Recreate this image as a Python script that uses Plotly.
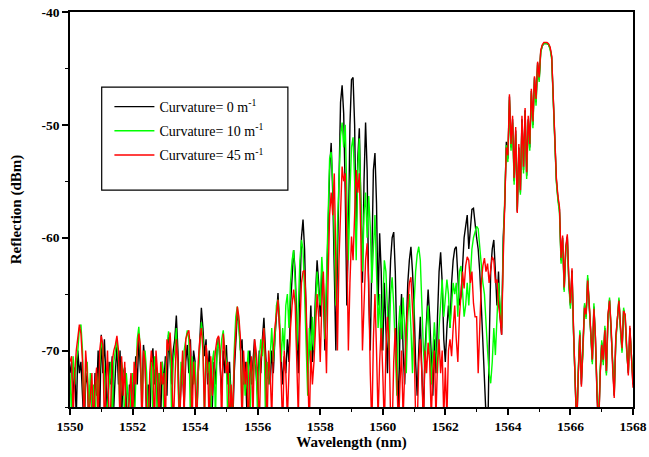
import plotly.graph_objects as go

# ---------------- data ----------------
wl_start = 1550.0   # nm
wl_step = 0.05      # nm, sampling grid of the spectra

black_dbm = [
    -72, -71, -74, -71.5, -76, -70, -72, -71, -74, -77, -73, -72, -76, -73, -75, -77, -72, -74, -70, -76,
    -68.6, -72, -69, -74, -76, -71, -73, -70.5, -75, -72, -69.5, -73, -70, -76, -72, -71.5, -74, -77, -73, -75,
    -72, -76, -70.5, -73, -69, -72, -74, -69.5, -71, -76, -73, -77, -71, -69.8, -73, -70.5, -75, -72, -76, -71,
    -73, -70.5, -74, -68.6, -71, -73, -70, -69, -66.9, -70, -76, -73, -72, -75, -71, -69.5, -72, -69, -74, -70,
    -71, -76, -72, -69, -66.2, -68, -70.5, -69, -73, -70, -72, -75, -71, -73, -70, -68.8, -71, -74, -70, -72,
    -69.5, -73, -71, -75, -77, -72, -69, -66.7, -67.5, -70, -69, -73, -71, -75, -72, -70, -73, -71, -69, -72,
    -74, -70, -72, -69, -67.1, -70, -72.5, -71, -73, -70, -72, -69, -67, -64.9, -68, -71, -73, -70.5, -72, -69,
    -71, -66, -63, -61.1, -63, -68, -72, -65, -60, -58.4, -61, -67, -72, -70, -66, -71, -69, -65, -62, -64,
    -67, -63, -65, -70, -64, -58, -54, -51.6, -56, -63, -70, -62, -53, -48, -46.5, -49, -56, -66, -60, -50,
    -46, -45.8, -50, -60, -53, -50.3, -57, -64, -55, -49.8, -54, -65, -70, -60, -54, -52.5, -57, -66, -59.6, -63,
    -70, -64, -68, -72, -66, -62, -60, -59.5, -63, -70, -76, -68, -65, -70, -73, -68, -64, -62, -60.8, -63,
    -66, -71, -74, -70, -67, -72, -76, -70, -67, -64.6, -67, -71, -74, -69, -72, -67, -63, -61.3, -64, -69,
    -71, -68, -66, -68, -64, -62, -61, -60.8, -63, -66, -65.2, -63, -60, -59, -58, -61, -59, -57.5, -57.4, -59,
    -60, -61, -63, -66, -70, -73, -77, -79, -70, -63, -61, -60.2, -63, -66, -63, -67, -68.6, -60, -57, -51.5,
    -53, -47.5, -52, -49.5, -55, -50.5, -57.7, -52, -56, -49.5, -54, -48.7, -54.5, -49.5, -52, -47, -50, -45.8, -48, -44.5,
    -46, -43.5, -43, -42.8, -42.8, -42.8, -42.9, -43.2, -44, -47.8, -52, -54.9, -56.5, -57.5, -62, -60, -64.6, -61, -59.9, -64,
    -66, -62.9, -68.4, -72, -77, -72, -68.4, -73, -70, -66, -67, -63.6, -66, -68.4, -71, -66.1, -69, -74, -77, -72,
    -69.3, -71, -68, -72, -67, -65.5, -68, -71.5, -74, -69, -67, -65.5, -68, -70, -66.4, -67, -70, -72, -68, -70.5,
    -73,
]

green_dbm = [
    -72, -76, -70.5, -73, -71, -70, -68, -67.7, -70, -76, -72, -71, -76, -72, -75, -73, -77, -72, -74, -71,
    -69, -70, -72, -76, -75, -73, -71, -77, -71, -70, -69, -71, -76, -71, -72, -77, -72, -74, -77, -73,
    -72, -77, -72, -69, -67.9, -70, -76, -71, -70, -72, -77, -73, -71, -76, -70.5, -72, -77, -72, -73, -71,
    -76, -72, -70, -68.3, -69, -76, -71, -70, -68, -72, -77, -71, -73, -70, -69, -68.2, -69, -76, -70.5, -73,
    -71, -77, -72, -70, -67.5, -69, -76, -70, -72, -71, -77, -71, -70, -76, -70, -69, -71, -69, -68.2, -70,
    -71, -77, -72, -75, -76, -70, -67, -66.1, -68, -70, -76, -71, -74, -72, -70, -77, -71, -73, -70, -71.5,
    -76, -71, -69, -70.5, -68, -76, -71, -73, -70, -68, -71, -69, -66, -65.5, -67, -71, -68, -70, -66, -65,
    -68, -64, -62, -61.1, -64, -70, -66, -62, -60.2, -61, -65, -70, -74, -68, -71, -67, -70, -66, -63, -65,
    -66, -61.7, -64, -69, -63, -57, -53, -52.4, -55, -60, -66, -59, -54, -51, -49.8, -52, -50, -56, -62, -56,
    -52, -51.1, -55, -62, -54, -51.2, -56, -63, -58, -56, -60, -56.3, -59, -64, -61, -58, -63, -68, -65, -70,
    -66, -62, -63, -67, -70, -65, -63.5, -66, -70, -74, -68, -66, -69, -65.3, -68, -72, -67, -65, -68, -72,
    -66, -63, -61.5, -60.8, -62, -66, -70, -72, -68, -66, -69, -73, -70, -67.5, -70, -72, -68, -66, -63.7, -67,
    -65, -63.7, -65, -68, -66, -64, -65, -64, -67, -63, -62.5, -65, -67, -66, -64, -66, -63, -61, -60, -59.5,
    -59, -59.2, -61, -63, -64, -65, -68, -70, -72, -72.9, -71, -68, -70.4, -67, -64, -66, -68, -61, -57, -51.8,
    -53.3, -47.8, -52.3, -49.8, -55.3, -50.8, -57.5, -52.3, -56.2, -49.8, -54.3, -48.9, -54.8, -49.8, -52.3, -47.2, -50.3, -46, -48.3, -44.7,
    -46.2, -43.6, -43, -42.8, -42.8, -42.8, -42.9, -43.3, -44.2, -48, -52.2, -55.1, -56.7, -57.8, -62.3, -60.2, -64.8, -61.2, -60.1, -64.3,
    -66.3, -63.1, -68.6, -72.3, -76.5, -71.8, -68.2, -72.5, -70.3, -65.8, -67.2, -63.3, -66.2, -68.7, -71.2, -65.8, -69.3, -74.2, -76.8, -71.7,
    -69.1, -71.3, -67.8, -72.2, -67.3, -65.3, -68.2, -71.2, -73.8, -69.3, -66.8, -65.3, -68.3, -70.2, -66.2, -67.3, -70.2, -71.8, -68.3, -70.2,
    -72.5,
]

red_dbm = [
    -71, -70.5, -76, -72, -70, -69, -67.7, -68.5, -71, -77, -70, -72, -77, -74, -72, -77, -73, -71.5, -77, -70,
    -68.7, -69.5, -77, -73, -70, -76, -75, -71, -70, -69.5, -68.7, -70, -77, -70.5, -74, -71, -77, -76, -74, -72,
    -77, -71, -73, -70, -68.5, -69.5, -77, -70, -71, -76, -77, -72, -70, -71.5, -77, -70, -72, -77, -71, -73,
    -72, -77, -69, -70, -68.4, -71, -77, -72, -69, -71, -77, -73, -70, -76, -69, -68.5, -68.2, -70, -77, -71,
    -73, -77, -71, -69, -68, -70, -76, -69.5, -71, -77, -70.5, -74, -72, -70, -69, -68.7, -70, -77, -68.5, -70,
    -72, -71, -77, -73, -76, -71, -68, -66.1, -67, -69, -77, -70, -73, -71, -77, -72, -70.5, -76, -69, -70,
    -72, -77, -71, -69.5, -68, -71, -77, -70, -72, -76, -70, -68, -66.5, -65.5, -68, -72, -77, -70, -72, -76,
    -72, -68, -66, -64.6, -66, -71, -76, -68, -64, -63, -62.9, -66, -72, -77, -70, -73, -71, -68, -65, -67,
    -71, -66, -63, -67, -72, -64, -58, -56, -58, -54.3, -61, -70, -62, -57, -53.7, -55, -54.3, -60, -70, -64,
    -59.9, -62, -57, -54, -56, -54.3, -60, -70, -66, -62, -60.5, -64, -72, -77, -69, -65, -70, -76, -71, -68,
    -72, -77, -70, -67, -69, -76, -77, -71, -68, -72, -77, -73, -70, -76, -71, -68, -66, -64, -63.5, -66,
    -69, -76, -77, -71, -69, -72, -77, -70, -72, -69.3, -71, -76, -72, -70, -76, -71, -69, -72, -70, -76,
    -71.5, -76, -70, -69, -70.5, -68, -66, -69, -71, -67, -65, -63, -64.5, -62.5, -61.7, -62, -64, -63, -65.8, -67,
    -67, -72, -68, -64, -62.5, -61.8, -63, -62.3, -64, -63, -61.7, -62, -64, -63.7, -66, -67, -68.6, -62, -57, -52,
    -52.7, -47.3, -51.7, -49.2, -54.7, -50.2, -57.8, -51.7, -55.8, -49.2, -53.7, -48.5, -54.2, -49.2, -51.7, -46.8, -49.7, -45.7, -47.7, -44.4,
    -45.8, -43.4, -42.9, -42.7, -42.7, -42.7, -42.8, -43.1, -43.9, -47.6, -51.8, -54.7, -56.3, -57.3, -61.8, -59.8, -64.4, -60.8, -59.7, -63.8,
    -65.8, -62.7, -68.2, -71.8, -77, -72.2, -68.6, -73.2, -69.8, -66.2, -66.8, -63.8, -65.8, -68.2, -70.8, -66.3, -68.8, -73.8, -77.2, -72.2,
    -69.5, -70.8, -68.2, -71.8, -66.8, -65.6, -67.8, -71.6, -74.2, -68.8, -67.2, -65.6, -67.8, -69.8, -66.5, -66.8, -69.8, -72.2, -67.8, -70.7,
    -73.3,
]

series_names = [
    "Curvature= 0 m<sup>-1</sup>",
    "Curvature= 10 m<sup>-1</sup>",
    "Curvature= 45 m<sup>-1</sup>",
]
series_colors = ["#000000", "#00ff00", "#ff0000"]

x_tick_vals = [1550, 1552, 1554, 1556, 1558, 1560, 1562, 1564, 1566, 1568]
x_tick_text = ["1550", "1552", "1554", "1556", "1558", "1560", "1562", "1564", "1566", "1568"]
y_tick_vals = [-70, -60, -50, -40]
y_tick_text = ["-70", "-60", "-50", "-40"]


def grid(n):
    return [round(wl_start + wl_step * i, 3) for i in range(n)]


fig = go.Figure()
for k, (vals, name, col) in enumerate(zip([black_dbm, green_dbm, red_dbm], series_names, series_colors)):
    fig.add_trace(go.Scatter(
        x=grid(len(vals)), y=vals, mode="lines", name=name, legendgroup=f"g{k}",
        line=dict(color=col, width=1.4),
    ))

serif = "Liberation Serif, Times New Roman, serif"

fig.update_layout(
    width=649, height=457,
    margin=dict(l=70, r=16, t=12, b=50),
    paper_bgcolor="white", plot_bgcolor="white",
    font=dict(family=serif, color="black"),
    showlegend=True,
    legend=dict(
        x=0.07, y=0.80, xanchor="left", yanchor="top",
        bgcolor="rgba(0,0,0,0)", borderwidth=0,
        font=dict(family=serif, size=14, color="black"),
        tracegroupgap=3, itemwidth=40,
    ),
    shapes=[dict(
        type="rect", xref="paper", yref="paper",
        x0=0.0563, x1=0.387, y0=0.549, y1=0.810,
        line=dict(color="black", width=1.2), fillcolor="rgba(0,0,0,0)",
    )],
)

fig.update_xaxes(
    range=[1550, 1568], tickvals=x_tick_vals, ticktext=x_tick_text,
    ticks="outside", ticklen=6, tickwidth=1.5, tickcolor="black",
    minor=dict(dtick=1, ticks="outside", ticklen=3, tickwidth=1.2, tickcolor="black"),
    showline=True, linecolor="black", linewidth=1.5, mirror=True,
    showgrid=False, zeroline=False, ticklabeloverflow="allow",
    tickfont=dict(family=serif, size=13.5, color="black", weight="bold"),
    title=dict(text="<b>Wavelength (nm)</b>", font=dict(family=serif, size=15, color="black"), standoff=3),
    automargin=False,
)
fig.update_yaxes(
    range=[-75, -40], tickvals=y_tick_vals, ticktext=y_tick_text,
    ticks="outside", ticklen=6, tickwidth=1.5, tickcolor="black",
    minor=dict(tickvals=[-75, -65, -55, -45], ticks="outside", ticklen=3, tickwidth=1.2, tickcolor="black"),
    showline=True, linecolor="black", linewidth=1.5, mirror=True,
    showgrid=False, zeroline=False, ticklabeloverflow="allow",
    tickfont=dict(family=serif, size=13.5, color="black", weight="bold"),
    title=dict(text="<b>Reflection (dBm)</b>", font=dict(family=serif, size=15, color="black"), standoff=16),
    automargin=False,
)

# remove the browser's default 8px body margin so the figure fills the window exactly
fig.write_html(
    "out.html",
    config={"displayModeBar": False},
    post_script="document.body.style.margin='0px';",
)
